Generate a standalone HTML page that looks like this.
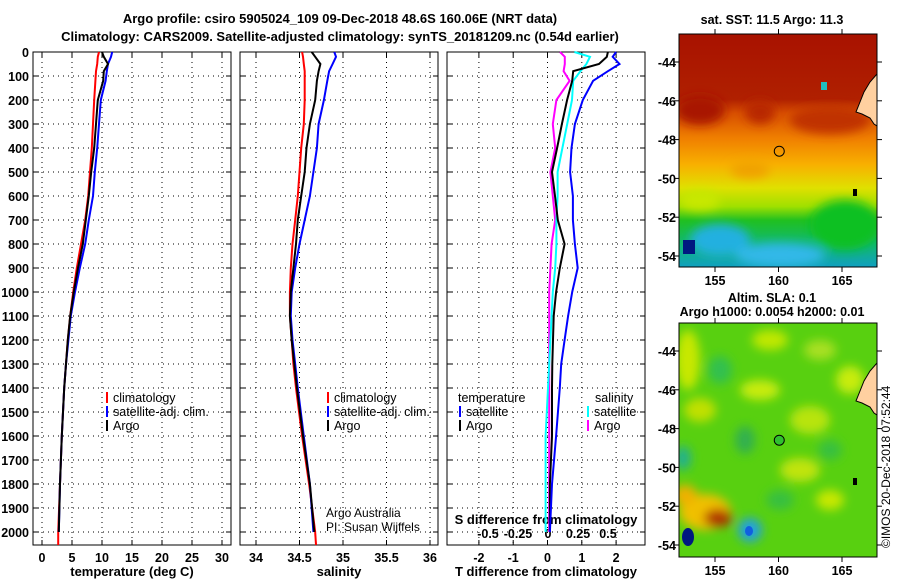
<!DOCTYPE html>
<html><head><meta charset="utf-8"><style>
html,body{margin:0;padding:0;background:#fff;width:900px;height:580px;overflow:hidden}
svg{display:block;font-family:"Liberation Sans",sans-serif}
.t{font-weight:bold;font-size:13px;fill:#000}
.k{font-weight:bold;font-size:12.5px;fill:#000}
</style></head><body>
<svg id="c" width="900" height="580" xmlns="http://www.w3.org/2000/svg">
<defs>
<linearGradient id="sst" x1="0" y1="0" x2="0" y2="1">
<stop offset="0" stop-color="#a81200"/><stop offset="0.28" stop-color="#b02000"/>
<stop offset="0.34" stop-color="#d85000"/><stop offset="0.45" stop-color="#f08000"/>
<stop offset="0.56" stop-color="#f8b000"/><stop offset="0.66" stop-color="#e0e000"/>
<stop offset="0.74" stop-color="#a0e000"/><stop offset="0.8" stop-color="#20c020"/>
<stop offset="0.9" stop-color="#10b870"/><stop offset="1" stop-color="#10a0c0"/>
</linearGradient>
<filter id="bl"><feGaussianBlur stdDeviation="5"/></filter>
<clipPath id="m1"><rect x="679" y="34" width="198" height="233"/></clipPath>
<clipPath id="m2"><rect x="679" y="323" width="198" height="234"/></clipPath>
</defs>
<text class="t" x="340" y="23" text-anchor="middle">Argo profile: csiro 5905024_109 09-Dec-2018 48.6S 160.06E (NRT data)</text>
<text class="t" x="340" y="41" text-anchor="middle">Climatology: CARS2009. Satellite-adjusted climatology: synTS_20181209.nc (0.54d earlier)</text>
<g id="plots"></g>
<g id="maps"></g>
<text x="0" y="0" transform="translate(890,548) rotate(-90)" style="font-size:12px">©IMOS 20-Dec-2018 07:52:44</text>
</svg>
<script>
const depths=[0,20,50,80,120,200,300,400,500,600,700,800,900,1000,1100,1200,1300,1400,1600,1800,2000];
const tClim=[9.5,9.3,9.2,9.0,8.9,8.7,8.5,8.3,8.0,7.7,7.2,6.5,5.8,5.2,4.7,4.3,4.0,3.7,3.3,3.0,2.7];
const tSat=[11.7,11.5,11.0,10.8,10.6,9.8,9.5,9.2,8.8,8.5,7.8,7.2,6.3,5.5,4.8,4.4,4.0,3.7,3.3,3.0,2.8];
const tArgo=[10.0,10.3,11.0,10.3,10.2,9.3,9.0,8.7,8.2,7.8,7.3,6.8,6.0,5.3,4.7,4.3,4.0,3.7,3.3,3.0,2.8];
const sClim=[34.53,34.54,34.55,34.56,34.56,34.56,34.55,34.52,34.50,34.48,34.45,34.42,34.40,34.39,34.39,34.41,34.43,34.46,34.53,34.61,34.68];
const sSat=[34.90,34.92,34.88,34.84,34.82,34.78,34.72,34.70,34.66,34.62,34.56,34.50,34.45,34.41,34.40,34.42,34.45,34.48,34.55,34.62,34.66];
const sArgo=[34.64,34.68,34.74,34.72,34.70,34.68,34.62,34.58,34.56,34.52,34.48,34.46,34.43,34.40,34.39,34.41,34.44,34.47,34.54,34.62,34.67];
const dTSat=[2.0,1.9,2.1,1.76,1.33,1.03,0.8,0.7,0.66,0.74,0.74,0.8,0.88,0.72,0.6,0.5,0.4,0.36,0.25,0.13,0.07];
const dTArgo=[1.76,1.73,1.5,0.75,0.72,0.57,0.42,0.28,0.13,0.22,0.3,0.5,0.36,0.25,0.18,0.16,0.14,0.13,0.13,0.07,0.07];
const dSSat=[0.22,0.35,0.32,0.27,0.21,0.2,0.16,0.12,0.08,0.08,0.07,0.07,0.06,0.04,0.03,0.02,0.01,0.0,-0.02,-0.02,-0.02];
const dSArgo=[0.1,0.14,0.14,0.13,0.18,0.07,0.04,0.06,0.02,0.04,0.06,0.03,0.02,0.01,0.01,0.01,0.01,0.01,0.01,0.01,0.01];
const depthTicks=[0,100,200,300,400,500,600,700,800,900,1000,1100,1200,1300,1400,1500,1600,1700,1800,1900,2000];
const tTicks=[0,5,10,15,20,25,30];
const sTicks=[34,34.5,35,35.5,36];
const dtTicks=[-2,-1,0,1,2];
const dsTicks=[-0.5,-0.25,0,0.25,0.5];
const dsTickLabels=["-0.5","-0.25","0","0.25","0.5"];
const latTicks=[-44,-46,-48,-50,-52,-54];
const lonTicks=[155,160,165];

const NS='http://www.w3.org/2000/svg';
function el(tag,attrs,parent,txt){const e=document.createElementNS(NS,tag);for(const k in attrs)e.setAttribute(k,attrs[k]);if(txt!==undefined)e.textContent=txt;parent.appendChild(e);return e;}
const plots=document.getElementById('plots');
const yD=d=>52+d*0.24;
const TOP=52,BOT=545;
function panel(x0,x1,xs,ticks,labels,name,xlabel){
  const g=el('g',{},plots);
  
  
  ticks.forEach((v,i)=>{const x=xs(v);
    el('line',{x1:x,x2:x,y1:TOP,y2:BOT,stroke:'#000','stroke-dasharray':'1,4','stroke-width':1},g);
    el('line',{x1:x,x2:x,y1:BOT,y2:BOT-5,stroke:'#000'},g);
    el('line',{x1:x,x2:x,y1:TOP,y2:TOP+5,stroke:'#000'},g);
    const t=el('text',{x:x,y:BOT+17,'text-anchor':'middle',class:'k'},g,labels?labels[i]:String(v));
    
    
  });
  depthTicks.forEach(d=>{const y=yD(d);
    el('line',{x1:x0,x2:x1,y1:y,y2:y,stroke:'#000','stroke-dasharray':'1,4'},g);
    el('line',{x1:x0,x2:x0+5,y1:y,y2:y,stroke:'#000'},g);
    el('line',{x1:x1,x2:x1-5,y1:y,y2:y,stroke:'#000'},g);});
  el('rect',{x:x0,y:TOP,width:x1-x0,height:BOT-TOP,fill:'none',stroke:'#000','stroke-width':1},g);
  const xl=el('text',{x:(x0+x1)/2,y:BOT+31,'text-anchor':'middle',class:'t'},g,xlabel);
  
  
  return g;
}
function line(g,xs,vals,color,name,w){
  let d='';vals.forEach((v,i)=>{d+=(i?'L':'M')+xs(v).toFixed(1)+','+yD(depths[i]).toFixed(1);});
  const p=el('path',{d:d,fill:'none',stroke:color,'stroke-width':w||2},g);
  
  
}
const xT=v=>42+v*6;
const g1=panel(33,231,xT,tTicks,null,'temperature-panel','temperature (deg C)');
depthTicks.forEach(d=>{const t=el('text',{x:29,y:yD(d)+5,'text-anchor':'end',class:'k'},g1,String(d));
  
  });
el('line',{x1:xT(2.7),x2:xT(2.7),y1:yD(2000),y2:BOT,stroke:'red','stroke-width':2},g1);
line(g1,xT,tClim,'#ff0000','temperature-climatology-line');
line(g1,xT,tSat,'#0000ff','temperature-satellite-line');
line(g1,xT,tArgo,'#000000','temperature-argo-line');
const xS=v=>256+(v-34)*87;
const g2=panel(240,438,xS,sTicks,null,'salinity-panel','salinity');
el('line',{x1:xS(34.68),x2:xS(34.69),y1:yD(2000),y2:BOT,stroke:'red','stroke-width':2},g2);
line(g2,xS,sClim,'#ff0000','salinity-climatology-line');
line(g2,xS,sSat,'#0000ff','salinity-satellite-line');
line(g2,xS,sArgo,'#000000','salinity-argo-line');
function legend(g,x,y,items,name){
  const lg=el('g',{},g);
  
  
  items.forEach((it,i)=>{const yy=y+i*14;
    el('line',{x1:x,x2:x,y1:yy-10,y2:yy+1,stroke:it[1],'stroke-width':2},lg);
    const t=el('text',{x:x+6,y:yy,style:'font-size:12.5px'},lg,it[0]);
    
    });
}
legend(g1,107,402,[['climatology','#f00'],['satellite-adj. clim.','#00f'],['Argo','#000']],'temperature-legend');
legend(g2,328,402,[['climatology','#f00'],['satellite-adj. clim.','#00f'],['Argo','#000']],'salinity-legend');
el('text',{x:326,y:517,style:'font-size:12px'},g2,'Argo Australia');
el('text',{x:326,y:531,style:'font-size:12px'},g2,'PI: Susan Wijffels');
const xDT=v=>547.5+v*34.3;
const xDS=v=>548+v*120;
const g3=panel(447,645,xDT,dtTicks,null,'difference-panel','T difference from climatology');
dsTicks.forEach((v,i)=>{const t=el('text',{x:xDS(v),y:538,'text-anchor':'middle',class:'k'},g3,dsTickLabels[i]);
  
  });
el('text',{x:546,y:524,'text-anchor':'middle',class:'t'},g3,'S difference from climatology');
line(g3,xDS,dSArgo,'#ff00ff','s-diff-argo-line');
line(g3,xDS,dSSat,'#00ffff','s-diff-satellite-line');
line(g3,xDT,dTArgo,'#000000','t-diff-argo-line');
line(g3,xDT,dTSat,'#0000ff','t-diff-satellite-line');
el('text',{x:458,y:402,style:'font-size:12.5px'},g3,'temperature');
legend(g3,460,416,[['satellite','#00f'],['Argo','#000']],'t-diff-legend');
el('text',{x:595,y:402,style:'font-size:12.5px'},g3,'salinity');
legend(g3,588,416,[['satellite','#0ff'],['Argo','#f0f']],'s-diff-legend');

const maps=document.getElementById('maps');
const xLon=(lon)=>715+(lon-155)*12.7;
function mapFrame(y0,name){
  const g=el('g',{},maps);
  
  
  const yLat=lat=>y0+28+(-44-lat)*19.4;
  return [g,yLat];
}
function axes(g,y0,y1,yLat){
  el('rect',{x:679,y:y0,width:198,height:y1-y0,fill:'none',stroke:'#000'},g);
  latTicks.forEach(l=>{const y=yLat(l);
    el('line',{x1:877,x2:882,y1:y,y2:y,stroke:'#000'},g);
    el('line',{x1:679,x2:674,y1:y,y2:y,stroke:'#000'},g);
    const t=el('text',{x:676,y:y+5,'text-anchor':'end',class:'k'},g,String(l));
    
    });
  lonTicks.forEach(l=>{const x=xLon(l);
    el('line',{x1:x,x2:x,y1:y1,y2:y1+5,stroke:'#000'},g);
    el('line',{x1:x,x2:x,y1:y0,y2:y0-5,stroke:'#000'},g);
    const t=el('text',{x:x,y:y1+18,'text-anchor':'middle',class:'k'},g,String(l));
    
    });
}
function land(g,y0){
  el('path',{d:`M877,${y0+40} L870,${y0+48} L864,${y0+58} L860,${y0+68} L856,${y0+78} L862,${y0+80} L870,${y0+84} L874,${y0+90} L877,${y0+92} Z`,fill:'#ffd0a0',stroke:'#000','stroke-width':1},g);
  el('rect',{x:853,y:y0+155,width:4,height:7,fill:'#000'},g);
}
let [gm1,yl1]=mapFrame(34,'sst-map');
const c1=el('g',{'clip-path':'url(#m1)'},gm1);
el('rect',{x:679,y:34,width:198,height:233,fill:'url(#sst)'},c1);
const b1=el('g',{filter:'url(#bl)'},c1);
[[700,110,25,15,'#a81200'],[760,112,15,12,'#b82800'],[830,120,40,14,'#c03000'],[720,240,30,16,'#20b0e0'],[780,255,45,12,'#30b8e8'],[845,225,35,25,'#10c020'],[750,170,20,8,'#f0a000'],[700,200,20,10,'#c8e800']].forEach(b=>el('ellipse',{cx:b[0],cy:b[1],rx:b[2],ry:b[3],fill:b[4]},b1));
el('rect',{x:683,y:240,width:12,height:14,fill:'#001880'},c1);
el('rect',{x:821,y:82,width:6,height:8,fill:'#20c0c0'},c1);
land(c1,34);
el('circle',{cx:xLon(160.06),cy:yl1(-48.6),r:5,fill:'none',stroke:'#000'},gm1);
axes(gm1,34,267,yl1);
el('text',{x:772,y:24,'text-anchor':'middle',class:'k'},gm1,'sat. SST: 11.5 Argo: 11.3');
let [gm2,yl2]=mapFrame(323,'sla-map');
const c2=el('g',{'clip-path':'url(#m2)'},gm2);
el('rect',{x:679,y:323,width:198,height:234,fill:'#58d010'},c2);
const b2=el('g',{filter:'url(#bl)'},c2);
[[688,360,12,30,'#c8e800'],[700,410,16,12,'#c0e000'],[760,390,20,10,'#c8ec10'],[810,420,20,14,'#b8e410'],[720,370,12,14,'#30c050'],[745,440,10,14,'#30b050'],[800,470,20,12,'#c0e410'],[683,458,8,12,'#20b090'],[705,512,26,18,'#f0c000'],[718,518,14,9,'#b03000'],[750,530,12,12,'#20a0e0'],[830,500,14,10,'#c8e800'],[820,350,16,10,'#a8e020'],[685,495,12,10,'#f0b000'],[770,340,18,10,'#c0e800'],[850,380,14,14,'#c8ec10'],[780,500,14,10,'#38c040'],[830,450,12,10,'#38c040']].forEach(b=>el('ellipse',{cx:b[0],cy:b[1],rx:b[2],ry:b[3],fill:b[4]},b2));
el('ellipse',{cx:688,cy:537,rx:6,ry:9,fill:'#001880'},c2);
el('ellipse',{cx:749,cy:531,rx:4,ry:5,fill:'#1060e0'},c2);
land(c2,323);
el('circle',{cx:xLon(160.06),cy:yl2(-48.6),r:5,fill:'#30c030',stroke:'#000'},gm2);
axes(gm2,323,557,yl2);
el('text',{x:772,y:302,'text-anchor':'middle',class:'k'},gm2,'Altim. SLA: 0.1');
el('text',{x:772,y:316,'text-anchor':'middle',class:'k'},gm2,'Argo h1000: 0.0054 h2000: 0.01');
</script>
</body></html>
